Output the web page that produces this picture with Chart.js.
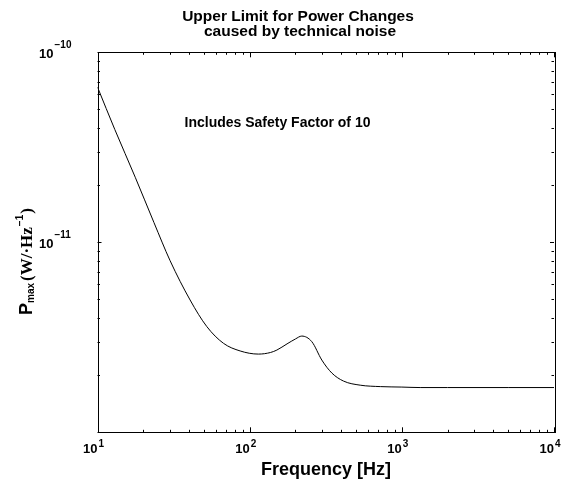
<!DOCTYPE html>
<html>
<head>
<meta charset="utf-8">
<script src="https://cdn.jsdelivr.net/npm/chart.js@4/dist/chart.umd.min.js"></script>
<style>
  html, body { margin: 0; padding: 0; background: #fff; }
  #wrap { width: 565px; height: 485px; }
</style>
</head>
<body>
<div id="wrap"><canvas id="chartPotencia" width="565" height="485"></canvas></div>
<script>
// Frequency axis (Hz) and upper power limit (W/Hz)
const frecuencias = [10, 13, 17.7, 23.5, 30, 40.6, 52.3, 67.3, 86.6, 114, 137, 151, 176, 200, 220, 256, 298, 347, 414, 533, 722, 1000, 1320, 2000, 5000, 10000];
const potenciaMax = [6.56e-11, 3.92e-11, 2.2e-11, 1.27e-11, 8.0e-12, 4.97e-12, 3.6e-12, 2.94e-12, 2.68e-12, 2.58e-12, 2.63e-12, 2.71e-12, 2.92e-12, 3.1e-12, 3.21e-12, 3.0e-12, 2.4e-12, 2.05e-12, 1.86e-12, 1.77e-12, 1.74e-12, 1.73e-12, 1.72e-12, 1.72e-12, 1.72e-12, 1.72e-12];

// Labelled decades
const ticksX = [10, 100, 1000, 10000];
const expX = ['1', '2', '3', '4'];
const ticksY = [1e-10, 1e-11];
const expY = ['\u221210', '\u221211'];

const SANS = '"Liberation Sans", Arial, sans-serif';
const SERIF = '"Liberation Serif", "Times New Roman", serif';

// minor ticks 2..9 for each decade between lo and hi
const menores = (lo, hi) => {
    const out = [];
    for (let d = lo; d < hi; d *= 10) {
        for (let k = 2; k <= 9; k++) out.push(d * k);
    }
    return out;
};

const potencia = (ctx, x, y, base, exp, yExp) => {
    ctx.font = 'bold 13px ' + SANS;
    ctx.textAlign = 'right';
    ctx.fillText(base, x, y);
    ctx.font = 'bold 10px ' + SANS;
    ctx.textAlign = 'left';
    ctx.fillText(exp, x + 1, yExp);
};

const marcoMatlab = {
    id: 'marcoMatlab',
    afterDraw(chart) {
        const ctx = chart.ctx;
        const a = chart.chartArea;
        const sx = chart.scales.x;
        const sy = chart.scales.y;
        ctx.save();
        ctx.strokeStyle = '#000';
        ctx.fillStyle = '#000';
        ctx.lineWidth = 1;

        // box
        ctx.strokeRect(Math.round(a.left) + 0.5, Math.round(a.top) + 0.5,
            Math.round(a.right - a.left), Math.round(a.bottom - a.top));

        // inward ticks on all four sides
        ctx.beginPath();
        const tickX = (v, len) => {
            const px = Math.round(sx.getPixelForValue(v)) + 0.5;
            ctx.moveTo(px, a.bottom); ctx.lineTo(px, a.bottom - len);
            ctx.moveTo(px, a.top); ctx.lineTo(px, a.top + len);
        };
        const tickY = (v, len) => {
            const py = Math.round(sy.getPixelForValue(v)) + 0.5;
            ctx.moveTo(a.left, py); ctx.lineTo(a.left + len, py);
            ctx.moveTo(a.right, py); ctx.lineTo(a.right - len, py);
        };
        ticksX.forEach(v => tickX(v, 5));
        menores(10, 10000).forEach(v => tickX(v, 2.5));
        [1e-12, 1e-11, 1e-10].forEach(v => tickY(v, 4));
        menores(1e-12, 1e-10).forEach(v => tickY(v, 2.5));
        ctx.stroke();

        // tick labels
        ctx.textBaseline = 'alphabetic';
        ticksX.forEach((v, i) => {
            const px = sx.getPixelForValue(v);
            potencia(ctx, px, a.bottom + 20.5, '10', expX[i], a.bottom + 14.5);
        });
        ticksY.forEach((v, i) => {
            const py = sy.getPixelForValue(v);
            potencia(ctx, 53.5, py + 5.5, '10', expY[i], py - 4);
        });

        // title
        ctx.textAlign = 'center';
        ctx.font = 'bold 15.5px ' + SANS;
        ctx.fillText('Upper Limit for Power Changes', 298, 21);
        ctx.fillText('caused by technical noise', 300, 36);

        // note inside the plot
        ctx.font = 'bold 14px ' + SANS;
        ctx.fillText('Includes Safety Factor of 10', 277.5, 127);

        // x axis title
        ctx.font = 'bold 18px ' + SANS;
        ctx.fillText('Frequency [Hz]', 326, 475);

        // y axis title, rotated
        ctx.translate(32, 315);
        ctx.rotate(-Math.PI / 2);
        ctx.textAlign = 'left';
        let x = 0;
        const pieza = (txt, font, dy) => {
            ctx.font = font;
            ctx.fillText(txt, x, dy);
            x += ctx.measureText(txt).width;
        };
        pieza('P', 'bold 18px ' + SANS, 0);
        pieza('max', 'bold 10px ' + SANS, 2);
        x += 2;
        pieza('(W/\u00b7Hz', 'bold 17px ' + SERIF, 0);
        x += 1;
        pieza('\u22121', 'bold 10px ' + SANS, -9);
        x += 1;
        pieza(')', 'bold 17px ' + SERIF, 0);
        ctx.restore();
    }
};

const ctxPotencia = document.getElementById('chartPotencia').getContext('2d');
const chartPotencia = new Chart(ctxPotencia, {
    type: 'line',
    data: {
        datasets: [{
            data: frecuencias.map((f, i) => ({ x: f, y: potenciaMax[i] })),
            borderColor: '#000',
            borderWidth: 1,
            pointRadius: 0,
            fill: false,
            cubicInterpolationMode: 'monotone'
        }]
    },
    options: {
        responsive: false,
        animation: false,
        layout: {
            padding: { left: 97.5, right: 11, top: 52.3, bottom: 52.7 }
        },
        plugins: {
            legend: { display: false },
            tooltip: { enabled: false },
            title: { display: false }
        },
        scales: {
            x: { type: 'logarithmic', min: 10, max: 10000, display: false },
            y: { type: 'logarithmic', min: 1e-12, max: 1e-10, display: false }
        }
    },
    plugins: [marcoMatlab]
});
</script>
</body>
</html>
